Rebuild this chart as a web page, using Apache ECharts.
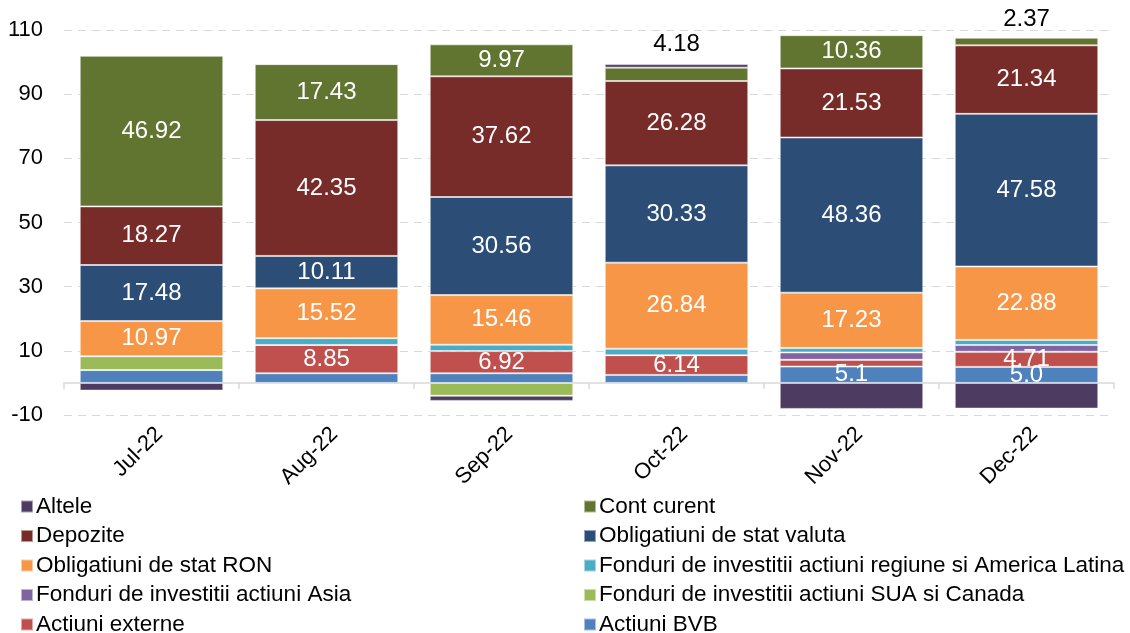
<!DOCTYPE html>
<html>
<head>
<meta charset="utf-8">
<script src="https://cdn.jsdelivr.net/npm/echarts@6/dist/echarts.min.js"></script>
<style>
html,body{margin:0;padding:0;background:#fff;}
#c{width:1130px;height:633px;}
</style>
</head>
<body>
<div id="c"></div>
<script>
const categories = ['Jul-22','Aug-22','Sep-22','Oct-22','Nov-22','Dec-22'];
const yTicks = [-10, 10, 30, 50, 70, 90, 110];

// series values (stack order bottom → top)
const actiuniBVB      = [4.0, 3.0, 3.0, 2.5, 5.1, 5.0];
const actiuniExterne  = [0, 8.85, 6.92, 6.14, 2.1, 4.71];
const fonduriSUA      = [4.3, 0, -4.0, 0, 0, 0];
const fonduriAsia     = [0, 0, 0, 0, 2.3, 2.1];
const fonduriRegiune  = [0, 2.1, 2.0, 2.0, 1.4, 1.6];
const obligRON        = [10.97, 15.52, 15.46, 26.84, 17.23, 22.88];
const obligValuta     = [17.48, 10.11, 30.56, 30.33, 48.36, 47.58];
const depozite        = [18.27, 42.35, 37.62, 26.28, 21.53, 21.34];
const contCurent      = [46.92, 17.43, 9.97, 4.18, 10.36, 2.37];
const altele          = [-2.4, 0.3, -1.6, 1.1, -8.1, -8.0];

// visible value labels (null = no label)
const lblBVB      = [null, null, null, null, '5.1', '5.0'];
const lblExterne  = [null, '8.85', '6.92', '6.14', null, '4.71'];
const lblRON      = ['10.97', '15.52', '15.46', '26.84', '17.23', '22.88'];
const lblValuta   = ['17.48', '10.11', '30.56', '30.33', '48.36', '47.58'];
const lblDepozite = ['18.27', '42.35', '37.62', '26.28', '21.53', '21.34'];
const lblCont     = ['46.92', '17.43', '9.97', '4.18', '10.36', '2.37'];
const contOutside = [false, false, false, true, false, true];

// legend layout: two columns, in reading order
const legendLeftCol  = ['Altele','Depozite','Obligatiuni de stat RON','Fonduri de investitii actiuni Asia','Actiuni externe'];
const legendRightCol = ['Cont curent','Obligatiuni de stat valuta','Fonduri de investitii actiuni regiune si America Latina','Fonduri de investitii actiuni SUA si Canada','Actiuni BVB'];

const FONT = '"Liberation Sans", Arial, sans-serif';

const defs = [
  {name:'Actiuni BVB', data:actiuniBVB, color:'#4f81bd', labels:lblBVB},
  {name:'Actiuni externe', data:actiuniExterne, color:'#c0504d', labels:lblExterne},
  {name:'Fonduri de investitii actiuni SUA si Canada', data:fonduriSUA, color:'#9bbb59', labels:null},
  {name:'Fonduri de investitii actiuni Asia', data:fonduriAsia, color:'#8064a2', labels:null},
  {name:'Fonduri de investitii actiuni regiune si America Latina', data:fonduriRegiune, color:'#4bacc6', labels:null},
  {name:'Obligatiuni de stat RON', data:obligRON, color:'#f79646', labels:lblRON},
  {name:'Obligatiuni de stat valuta', data:obligValuta, color:'#2c4d75', labels:lblValuta},
  {name:'Depozite', data:depozite, color:'#772c2a', labels:lblDepozite},
  {name:'Cont curent', data:contCurent, color:'#617531', labels:lblCont, outside:contOutside},
  {name:'Altele', data:altele, color:'#4d3b62', labels:null}
];

const series = defs.map(d => ({
  name: d.name,
  type: 'bar',
  stack: 'total',
  xAxisIndex: 0,
  barCategoryGap: '18%',
  itemStyle: {color: d.color, borderColor: 'rgba(255,255,255,0.5)', borderWidth: 1},
  emphasis: {disabled: true},
  data: d.data.map((v, i) => {
    const item = {value: v};
    if (d.labels && d.labels[i] !== null) {
      const out = d.outside && d.outside[i];
      item.label = {
        show: true,
        position: out ? 'top' : 'inside',
        distance: out ? (i === 3 ? 11 : 6) : 5,
        color: out ? '#000' : '#fff',
        fontSize: 24,
        fontFamily: FONT,
        formatter: () => d.labels[i]
      };
    } else {
      item.label = {show: false};
    }
    return item;
  })
}));

const rowTop0 = 495, rowStep = 29.5;
const legends = [];
[[legendLeftCol, 20], [legendRightCol, 583]].forEach(([names, left]) => {
  names.forEach((n, r) => {
    legends.push({
      orient: 'horizontal',
      left: left,
      top: rowTop0 + r * rowStep,
      icon: 'rect',
      itemWidth: 12,
      itemHeight: 12,
      selectedMode: false,
      padding: 0,
      textStyle: {fontSize: 22.5, fontFamily: FONT, color: '#000', lineHeight: 22, padding: [0,0,0,-2]},
      data: [n]
    });
  });
});

const chart = echarts.init(document.getElementById('c'), null, {renderer: 'canvas'});
chart.setOption({
  animation: false,
  backgroundColor: '#fff',
  grid: {left: 64, right: 16, top: 30, bottom: 218},
  legend: legends,
  xAxis: [
    {
      type: 'category',
      data: categories,
      position: 'bottom',
      axisLine: {show: true, onZero: true, lineStyle: {color: '#d9d9d9', width: 1.5}},
      axisTick: {show: true, length: 6, lineStyle: {color: '#d9d9d9', width: 1.5}},
      axisLabel: {show: false}
    },
    {
      type: 'category',
      data: categories,
      position: 'bottom',
      axisLine: {show: false, onZero: false},
      axisTick: {show: false},
      axisLabel: {show: true, rotate: 45, margin: 8, fontSize: 22, fontFamily: FONT, color: '#000', verticalAlign: 'top'}
    }
  ],
  yAxis: {
    type: 'value',
    min: yTicks[0],
    max: yTicks[yTicks.length - 1],
    interval: 20,
    axisLine: {show: false},
    axisTick: {show: false},
    axisLabel: {fontSize: 22, fontFamily: FONT, color: '#000', margin: 21},
    splitLine: {show: true, lineStyle: {color: '#d9d9d9', type: [8, 6], width: 1}}
  },
  series: series
});
</script>
</body>
</html>
